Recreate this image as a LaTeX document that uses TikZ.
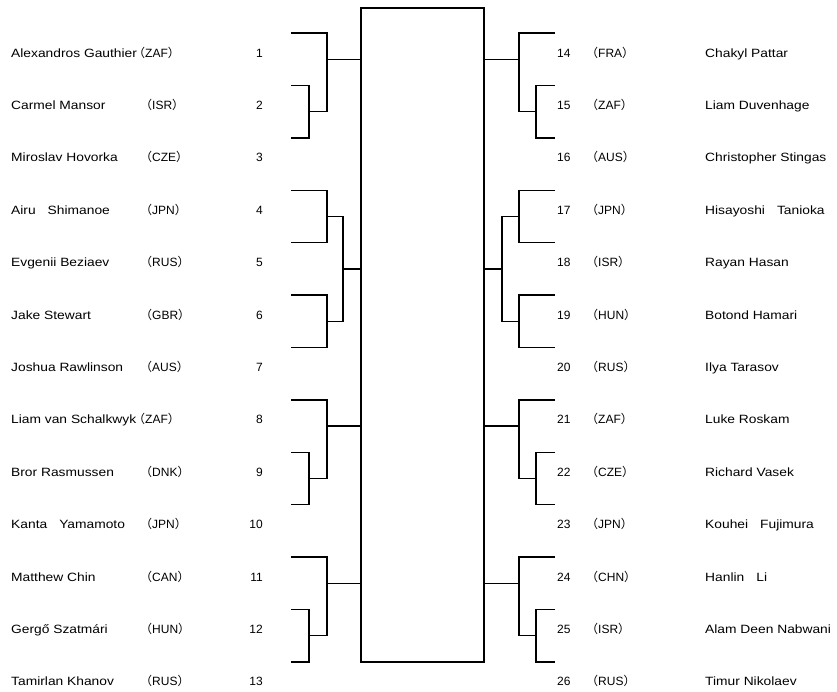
\documentclass[tikz,border=0pt]{standalone}
\usepackage{fontspec}
\setmainfont{Liberation Sans}
\newfontfamily\namefont[FakeStretch=1.15]{Liberation Sans}
\newfontfamily\cjk{Noto Sans CJK JP}
\usetikzlibrary{calc}
\newcommand\cty[1]{{\cjk （}#1{\cjk ）}}
\newcommand\zsp{{\cjk 　}}
\tikzset{
    brline/.style={line width=1.4pt},
    player/.style={anchor=base west, inner sep=0pt, font=\namefont\fontsize{12}{14}\selectfont},
    nation/.style={anchor=base west, inner sep=0pt, font=\fontsize{12}{14}\selectfont},
    seed/.style={inner sep=0pt, font=\fontsize{12}{14}\selectfont},
}
\begin{document}
\begin{tikzpicture}[x=1pt,y=-1pt]
    \useasboundingbox (0,0) rectangle (837,691);
    % centre box
    \node[draw, brline, inner sep=0pt, outer sep=0pt, minimum width=123pt, minimum height=654pt] (box) at (422.5,335) {};
    % left half
    \foreach \i/\nm/\cc/\cx in {1/Alexandros Gauthier/ZAF/133, 2/Carmel Mansor/ISR/140,
        3/Miroslav Hovorka/CZE/140, 4/Airu\zsp Shimanoe/JPN/140, 5/Evgenii Beziaev/RUS/140,
        6/Jake Stewart/GBR/140, 7/Joshua Rawlinson/AUS/140, 8/Liam van Schalkwyk/ZAF/133,
        9/Bror Rasmussen/DNK/140, 10/Kanta\zsp Yamamoto/JPN/140, 11/Matthew Chin/CAN/140,
        12/Gergő Szatmári/HUN/140, 13/Tamirlan Khanov/RUS/140}{
        \pgfmathsetmacro\y{33+52.4*(\i-1)}
        \coordinate (l\i) at (291,\y);
        \node[player] (ln\i) at (11,\y+24) {\nm};
        \node[nation] (lc\i) at (\cx,\y+24) {\cty{\cc}};
        \node[seed, anchor=base east] (ls\i) at (263,\y+24) {\i};
    }
    % right half
    \foreach \i/\nm/\cc in {14/Chakyl Pattar/FRA, 15/Liam Duvenhage/ZAF,
        16/Christopher Stingas/AUS, 17/Hisayoshi\zsp Tanioka/JPN, 18/Rayan Hasan/ISR,
        19/Botond Hamari/HUN, 20/Ilya Tarasov/RUS, 21/Luke Roskam/ZAF,
        22/Richard Vasek/CZE, 23/Kouhei\zsp Fujimura/JPN, 24/Hanlin\zsp Li/CHN,
        25/Alam Deen Nabwani/ISR, 26/Timur Nikolaev/RUS}{
        \pgfmathsetmacro\y{33+52.4*(\i-14)}
        \pgfmathtruncatemacro\k{\i-13}
        \coordinate (r\k) at (555,\y);
        \node[seed, anchor=base west] (rs\k) at (557,\y+24) {\i};
        \node[nation] (rc\k) at (586,\y+24) {\cty{\cc}};
        \node[player] (rn\k) at (705,\y+24) {\nm};
    }
    % groups of three
    \foreach \s in {1,8,11}{
        \pgfmathtruncatemacro\t{\s+1}
        \pgfmathtruncatemacro\u{\s+2}
        % left
        \draw[brline] (l\t) -- ++(18,0) |- (l\u);
        \coordinate (li\s) at ($(l\t)!.5!(l\u)+(18,0)$);
        \draw[brline] (l\s) -- ++(36,0) |- (li\s);
        \coordinate (lo\s) at ($(l\s)!.5!(l\t)+(36,0)$);
        \draw[brline] (lo\s) -- (lo\s -| box.west);
        % right
        \draw[brline] (r\t) -- ++(-19,0) |- (r\u);
        \coordinate (ri\s) at ($(r\t)!.5!(r\u)+(-19,0)$);
        \draw[brline] (r\s) -- ++(-36,0) |- (ri\s);
        \coordinate (ro\s) at ($(r\s)!.5!(r\t)+(-36,0)$);
        \draw[brline] (ro\s) -- (ro\s -| box.east);
    }
    % groups of four
    \draw[brline] (l4) -- ++(36,0) |- (l5);
    \draw[brline] (l6) -- ++(36,0) |- (l7);
    \coordinate (lm4) at ($(l4)!.5!(l5)+(36,0)$);
    \coordinate (lm6) at ($(l6)!.5!(l7)+(36,0)$);
    \draw[brline] (lm4) -- ++(16,0) |- (lm6);
    \coordinate (lo4) at ($(lm4)!.5!(lm6)+(16,0)$);
    \draw[brline] (lo4) -- (lo4 -| box.west);
    \draw[brline] (r4) -- ++(-36,0) |- (r5);
    \draw[brline] (r6) -- ++(-36,0) |- (r7);
    \coordinate (rm4) at ($(r4)!.5!(r5)+(-36,0)$);
    \coordinate (rm6) at ($(r6)!.5!(r7)+(-36,0)$);
    \draw[brline] (rm4) -- ++(-17,0) |- (rm6);
    \coordinate (ro4) at ($(rm4)!.5!(rm6)+(-17,0)$);
    \draw[brline] (ro4) -- (ro4 -| box.east);
\end{tikzpicture}
\end{document}
